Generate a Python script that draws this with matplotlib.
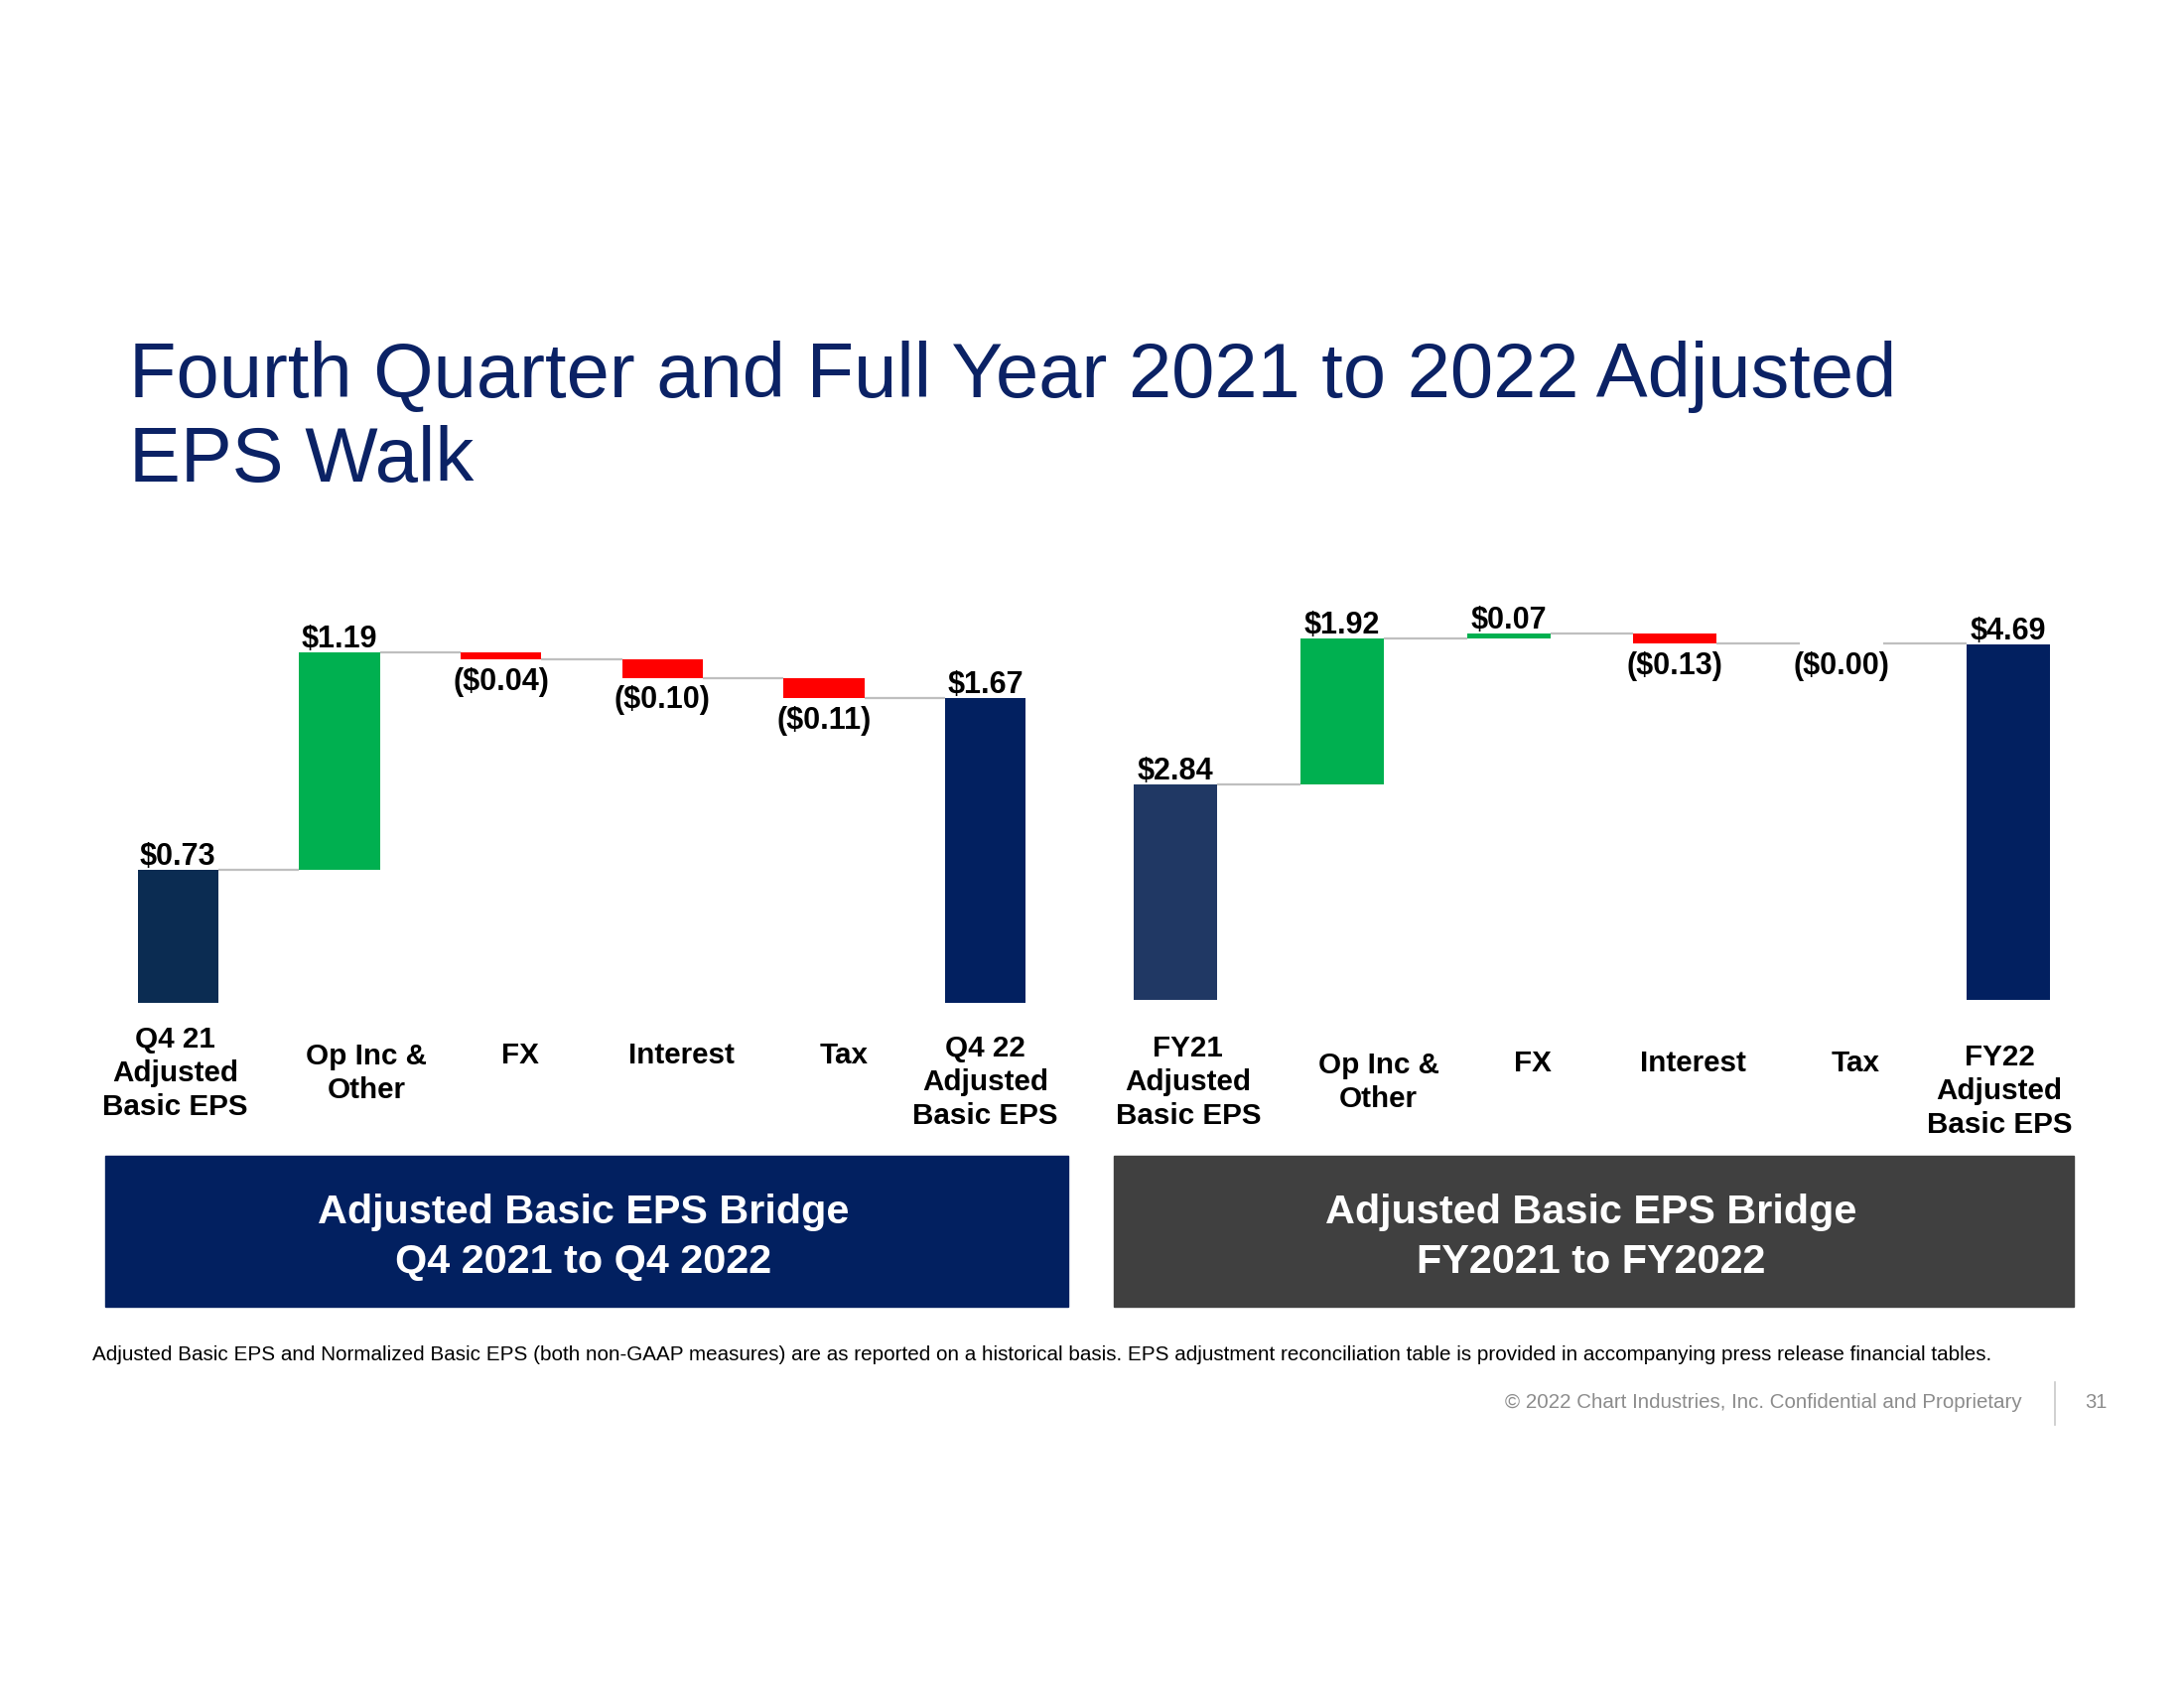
import matplotlib
matplotlib.use("Agg")
import matplotlib.pyplot as plt
from matplotlib.patches import Rectangle

plt.rcParams["font.family"] = ["Liberation Sans", "DejaVu Sans"]

# --- data ---
q4_labels = ["Q4 21\nAdjusted\nBasic EPS", "Op Inc &\nOther", "FX", "Interest", "Tax",
             "Q4 22\nAdjusted\nBasic EPS"]
q4_start = 0.73
q4_steps = [1.19, -0.04, -0.10, -0.11]
q4_end = 1.67

fy_labels = ["FY21\nAdjusted\nBasic EPS", "Op Inc &\nOther", "FX", "Interest", "Tax",
             "FY22\nAdjusted\nBasic EPS"]
fy_start = 2.84
fy_steps = [1.92, 0.07, -0.13, -0.00]
fy_end = 4.69

banner_q4 = "Adjusted Basic EPS Bridge\nQ4 2021 to Q4 2022"
banner_fy = "Adjusted Basic EPS Bridge\nFY2021 to FY2022"
footnote = ("Adjusted Basic EPS and Normalized Basic EPS (both non-GAAP measures) are as reported "
            "on a historical basis. EPS adjustment reconciliation table is provided in "
            "accompanying press release financial tables.")

NAVY = "#022060"
GREEN = "#00B050"
RED = "#FF0000"
GREY_LINE = "#BFBFBF"

W, H = 2200, 1700
fig = plt.figure(figsize=(22, 17), dpi=100)


def fmt(v):
    if v < 0 or (v == 0 and str(v).startswith("-")):
        return f"(${abs(v):.2f})"
    return f"${v:.2f}"


def waterfall(ax, start, steps, end, labels, start_color, end_color, label_dx, label_dy):
    width = 0.5
    vsize = 22
    up = -1.5   # label offset above bars (pt), "$" descender sits on the bar
    running = start
    ax.bar(0, start, width, color=start_color)
    ax.annotate(fmt(start), (0, start), xytext=(0, up), textcoords="offset points",
                ha="center", va="bottom", fontsize=vsize, fontweight="bold")
    levels = [start]
    for i, d in enumerate(steps, start=1):
        neg = d < 0 or str(d).startswith("-")
        bottom = running + d if neg else running
        ax.bar(i, abs(d), width, bottom=bottom, color=RED if neg else GREEN)
        if neg:
            ax.annotate(fmt(d), (i, bottom), xytext=(0, -5.5), textcoords="offset points",
                        ha="center", va="top", fontsize=vsize, fontweight="bold")
        else:
            ax.annotate(fmt(d), (i, bottom + abs(d)), xytext=(0, up), textcoords="offset points",
                        ha="center", va="bottom", fontsize=vsize, fontweight="bold")
        running += d
        levels.append(running)
    n = len(steps) + 1
    ax.bar(n, end, width, color=end_color)
    ax.annotate(fmt(end), (n, end), xytext=(0, up), textcoords="offset points",
                ha="center", va="bottom", fontsize=vsize, fontweight="bold")
    # connectors between bars
    for i, lvl in enumerate(levels):
        ax.plot([i + width / 2, i + 1 - width / 2], [lvl, lvl], color=GREY_LINE,
                lw=1.6, zorder=0, solid_capstyle="butt")
    # category labels
    for i, lab in enumerate(labels):
        ax.annotate(lab, (i, 0), xycoords=("data", "axes fraction"),
                    xytext=(label_dx[i], -label_dy[i]), textcoords="offset pixels",
                    ha="center", va="center", fontsize=21.3, fontweight="bold",
                    linespacing=1.27, annotation_clip=False)
    ax.set_xlim(-0.5, n + 0.5)
    ax.axis("off")


ax1 = fig.add_axes([98 / W, 690 / H, 976 / W, 404 / H])
ax1.set_ylim(0, 404 / 183.9)
waterfall(ax1, q4_start, q4_steps, q4_end, q4_labels, "#0B2C52", NAVY,
          [-3, 27, 19, 19, 20, 0], [71, 71, 53, 53, 53, 80])

ax2 = fig.add_axes([1100 / W, 693 / H, 1007 / W, 421 / H])
ax2.set_ylim(0, 421 / 76.4)
waterfall(ax2, fy_start, fy_steps, fy_end, fy_labels, "#203864", NAVY,
          [13, 37, 24, 18, 14, -9], [83, 83, 64, 64, 64, 92])

# title
fig.text(130 / W, 1 - 400 / H, "Fourth Quarter and Full Year 2021 to 2022 Adjusted",
         fontsize=56, color="#0B2265", va="baseline", ha="left")
fig.text(130 / W, 1 - 485 / H, "EPS Walk",
         fontsize=56, color="#0B2265", va="baseline", ha="left")

# banners
for x0, x1, color, txt in [(106, 1076, NAVY, banner_q4), (1122, 2089, "#404040", banner_fy)]:
    fig.patches.append(Rectangle((x0 / W, 1 - 1316 / H), (x1 - x0) / W, 152 / H,
                                 transform=fig.transFigure, color=color, zorder=0))
    fig.text((x0 + x1) / 2 / W - 3 / W, 1 - 1246 / H, txt, color="white", fontsize=29.8,
             fontweight="bold", ha="center", va="center", linespacing=1.38)

# footnote and footer
fig.text(93 / W, 1 - 1364 / H, footnote, fontsize=14.9, ha="left", va="center")
fig.text(2037 / W, 1 - 1413 / H, "\u00a9 2022 Chart Industries, Inc. Confidential and Proprietary",
         fontsize=14.75, color="#8C8C8C", ha="right", va="center")
fig.add_artist(plt.Line2D([2070 / W, 2070 / W], [1 - 1392 / H, 1 - 1435 / H],
                          color="#C8C8C8", lw=1.2, transform=fig.transFigure))
fig.text(2111 / W, 1 - 1413 / H, "31", fontsize=14.5, color="#8C8C8C", ha="center", va="center")

fig.savefig("out.png", dpi=100, facecolor="white")
